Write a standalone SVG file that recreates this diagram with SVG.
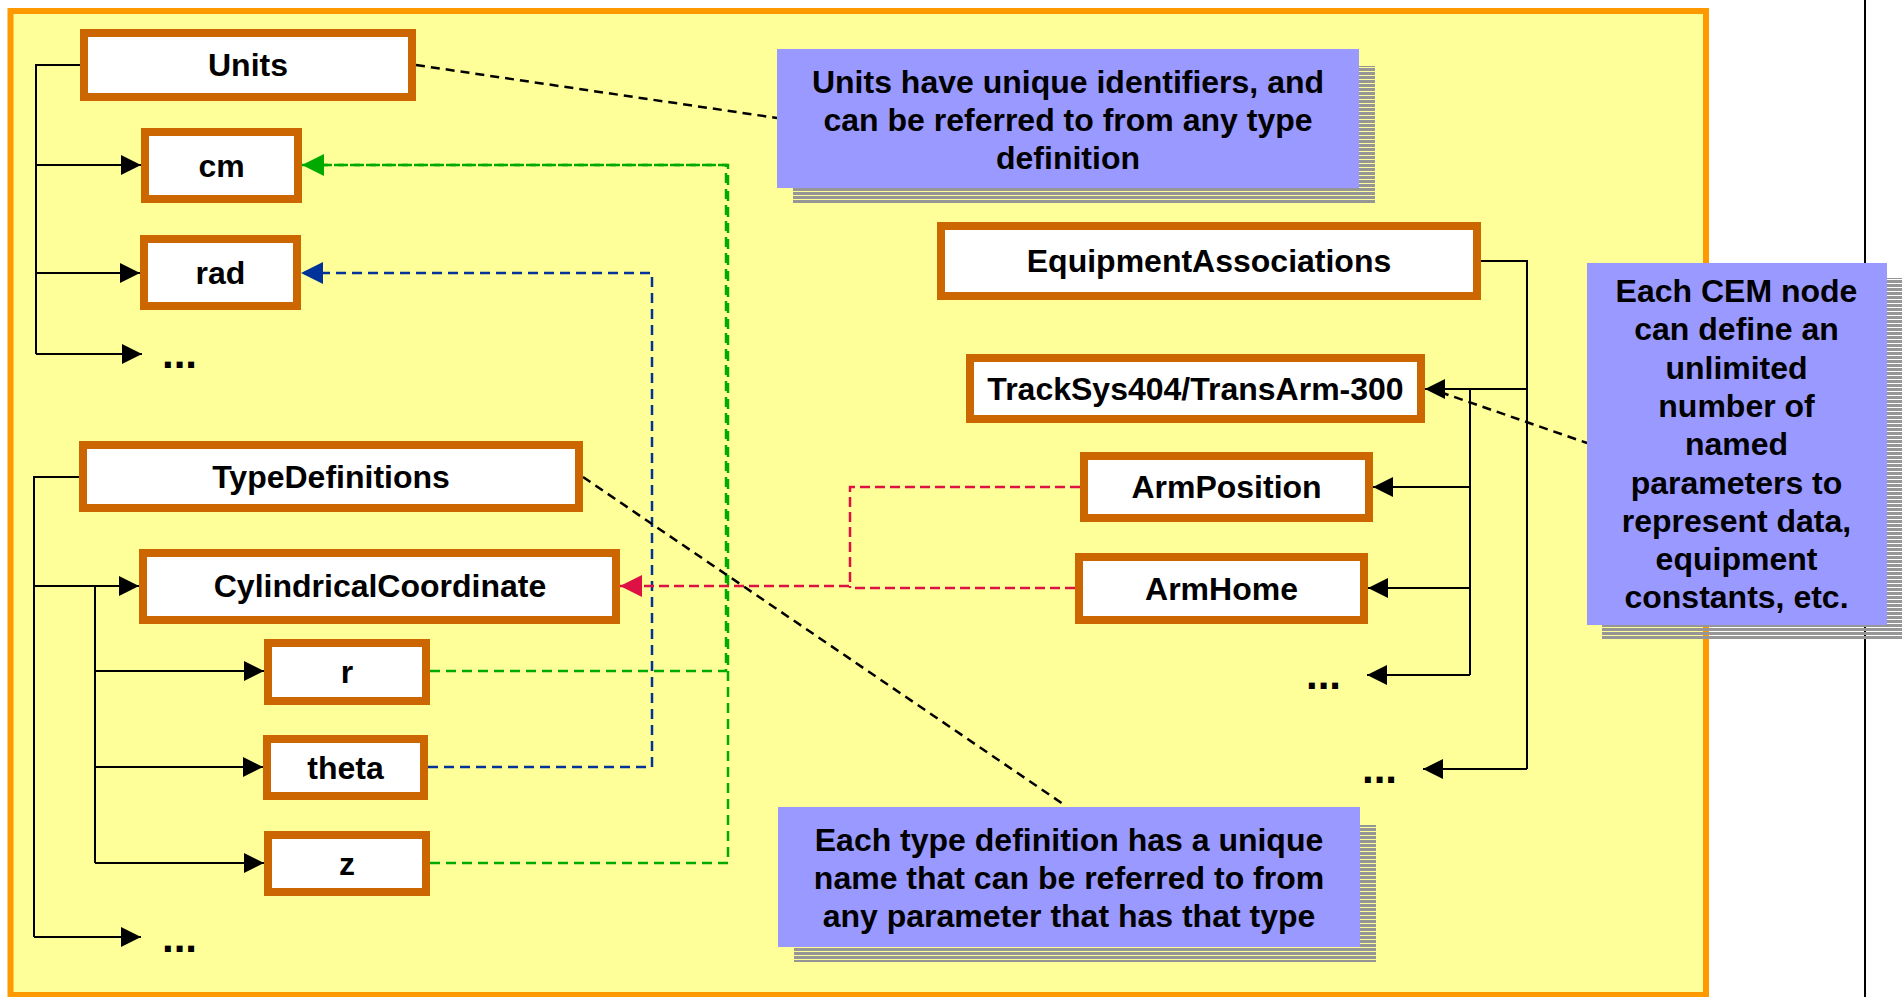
<svg xmlns="http://www.w3.org/2000/svg" width="1902" height="997" viewBox="0 0 1902 997">
  <style>
    .node rect { fill: #FFFFFF; stroke: #CC6600; stroke-width: 8; }
    .lbl { font-family: "Liberation Sans", Arial, sans-serif; font-weight: bold; font-size: 32px; fill: #000000; text-anchor: middle; }
    .dots { font-family: "Liberation Sans", Arial, sans-serif; font-weight: bold; font-size: 42px; fill: #000000; }
    .note rect.body { fill: #9999FF; }
    .note rect.shadow { fill: url(#stripes); }
    .tree { fill: none; stroke: #000000; stroke-width: 2; }
    .tree-arrow { fill: none; stroke: #000000; stroke-width: 2; marker-end: url(#arrowBlack); }
    .callout { fill: none; stroke: #000000; stroke-width: 2.5; stroke-dasharray: 9 6; }
    .ref-green { fill: none; stroke: #00AA00; stroke-width: 2.5; stroke-dasharray: 10 6; }
    .ref-blue { fill: none; stroke: #003399; stroke-width: 2.5; stroke-dasharray: 10 6; }
    .ref-red { fill: none; stroke: #DD1144; stroke-width: 2.5; stroke-dasharray: 10 5; }
  </style>
  <defs>
    <pattern id="stripes" width="8" height="4" patternUnits="userSpaceOnUse">
      <rect x="0" y="0" width="8" height="3" fill="#969696"/>
    </pattern>
    <marker id="arrowBlack" viewBox="0 0 20 20" refX="20" refY="10" markerWidth="20" markerHeight="20" markerUnits="userSpaceOnUse" orient="auto">
      <path d="M0,0 L20,10 L0,20 z" fill="#000000"/>
    </marker>
    <marker id="arrowGreen" viewBox="0 0 22 22" refX="22" refY="11" markerWidth="22" markerHeight="22" markerUnits="userSpaceOnUse" orient="auto">
      <path d="M0,0 L22,11 L0,22 z" fill="#00AA00"/>
    </marker>
    <marker id="arrowBlue" viewBox="0 0 22 22" refX="22" refY="11" markerWidth="22" markerHeight="22" markerUnits="userSpaceOnUse" orient="auto">
      <path d="M0,0 L22,11 L0,22 z" fill="#003399"/>
    </marker>
    <marker id="arrowRed" viewBox="0 0 22 22" refX="22" refY="11" markerWidth="22" markerHeight="22" markerUnits="userSpaceOnUse" orient="auto">
      <path d="M0,0 L22,11 L0,22 z" fill="#DD1144"/>
    </marker>
  </defs>

  <!-- page -->
  <rect x="0" y="0" width="1902" height="997" fill="#FFFFFF"/>
  <line x1="1865" y1="0" x2="1865" y2="997" stroke="#000000" stroke-width="2"/>
  <!-- yellow panel -->
  <rect x="10.5" y="11" width="1695.5" height="984" fill="#FFFF99" stroke="#FF9900" stroke-width="6"/>

  <!-- connectors -->
  <g id="connectors">
    <!-- Units tree -->
    <path class="tree" d="M80 65 H36 V354"/>
    <path class="tree-arrow" d="M36 165 H141"/>
    <path class="tree-arrow" d="M36 273 H140"/>
    <path class="tree-arrow" d="M36 354 H142"/>
    <!-- TypeDefinitions tree -->
    <path class="tree" d="M79 477 H34 V937"/>
    <path class="tree-arrow" d="M34 586 H139"/>
    <path class="tree-arrow" d="M34 937 H141"/>
    <path class="tree" d="M95 586 V863"/>
    <path class="tree-arrow" d="M95 671 H264"/>
    <path class="tree-arrow" d="M95 767 H263"/>
    <path class="tree-arrow" d="M95 863 H264"/>
    <!-- EquipmentAssociations tree -->
    <path class="tree" d="M1481 261 H1527 V769"/>
    <path class="tree-arrow" d="M1527 769 H1423"/>
    <path class="tree-arrow" d="M1527 389 H1425"/>
    <path class="tree" d="M1470 389 V675"/>
    <path class="tree-arrow" d="M1470 675 H1367"/>
    <path class="tree-arrow" d="M1470 487 H1373"/>
    <path class="tree-arrow" d="M1470 588 H1368"/>

    <!-- unit references -->
    <path class="ref-green" d="M430 863 H728 V165 H306"/>
    <path class="ref-green" d="M430 671 H726 V165 H302" marker-end="url(#arrowGreen)"/>
    <path class="ref-blue" d="M428 767 H652 V273 H301" marker-end="url(#arrowBlue)"/>
    <!-- type references -->
    <path class="ref-red" d="M1075 588 H850 V586"/>
    <path class="ref-red" d="M1080 487 H850 V586 H620" marker-end="url(#arrowRed)"/>

    <!-- callout leaders -->
    <path class="callout" d="M416 65 L777 118"/>
    <path class="callout" d="M583 477 L1066 806"/>
    <path class="callout" d="M1440 392 L1587 443"/>
  </g>

  <!-- unit nodes -->
  <g id="node-units" class="node">
    <rect x="84" y="33" width="328" height="64"/>
    <text class="lbl" x="248" y="76">Units</text>
  </g>
  <g id="node-cm" class="node">
    <rect x="145" y="132" width="153" height="67"/>
    <text class="lbl" x="221.5" y="177">cm</text>
  </g>
  <g id="node-rad" class="node">
    <rect x="144" y="239" width="153" height="67"/>
    <text class="lbl" x="220.5" y="284">rad</text>
  </g>
  <text id="units-more" class="dots" x="162" y="368">...</text>

  <!-- type nodes -->
  <g id="node-typedefs" class="node">
    <rect x="83" y="445" width="496" height="63"/>
    <text class="lbl" x="331" y="488">TypeDefinitions</text>
  </g>
  <g id="node-cylindrical" class="node">
    <rect x="143" y="553" width="473" height="67"/>
    <text class="lbl" x="380" y="597">CylindricalCoordinate</text>
  </g>
  <g id="node-r" class="node">
    <rect x="268" y="643" width="158" height="58"/>
    <text class="lbl" x="347" y="683">r</text>
  </g>
  <g id="node-theta" class="node">
    <rect x="267" y="739" width="157" height="57"/>
    <text class="lbl" x="345.5" y="779">theta</text>
  </g>
  <g id="node-z" class="node">
    <rect x="268" y="835" width="158" height="57"/>
    <text class="lbl" x="347" y="875">z</text>
  </g>
  <text id="types-more" class="dots" x="162" y="952">...</text>

  <!-- equipment nodes -->
  <g id="node-equipment" class="node">
    <rect x="941" y="226" width="536" height="70"/>
    <text class="lbl" x="1209" y="272">EquipmentAssociations</text>
  </g>
  <g id="node-tracksys" class="node">
    <rect x="970" y="358" width="451" height="61"/>
    <text class="lbl" x="1195.5" y="400">TrackSys404/TransArm-300</text>
  </g>
  <g id="node-armposition" class="node">
    <rect x="1084" y="456" width="285" height="62"/>
    <text class="lbl" x="1226.5" y="498">ArmPosition</text>
  </g>
  <g id="node-armhome" class="node">
    <rect x="1079" y="557" width="285" height="63"/>
    <text class="lbl" x="1221.5" y="600">ArmHome</text>
  </g>
  <text id="params-more" class="dots" x="1306" y="689">...</text>
  <text id="equipment-more" class="dots" x="1362" y="783">...</text>

  <!-- notes -->
  <g id="note-units" class="note">
    <rect class="shadow" x="793" y="66" width="582" height="137"/>
    <rect class="body" x="777" y="49" width="582" height="139"/>
    <text class="lbl" x="1068" y="93">Units have unique identifiers, and</text>
    <text class="lbl" x="1068" y="131">can be referred to from any type</text>
    <text class="lbl" x="1068" y="169">definition</text>
  </g>
  <g id="note-types" class="note">
    <rect class="shadow" x="794" y="825" width="582" height="137"/>
    <rect class="body" x="778" y="807" width="582" height="140"/>
    <text class="lbl" x="1069" y="851">Each type definition has a unique</text>
    <text class="lbl" x="1069" y="889">name that can be referred to from</text>
    <text class="lbl" x="1069" y="927">any parameter that has that type</text>
  </g>
  <g id="note-cem" class="note">
    <rect class="shadow" x="1602" y="278" width="310" height="362"/>
    <rect class="body" x="1587" y="263" width="300" height="362"/>
    <text class="lbl" x="1736.5" y="302">Each CEM node</text>
    <text class="lbl" x="1736.5" y="340">can define an</text>
    <text class="lbl" x="1736.5" y="379">unlimited</text>
    <text class="lbl" x="1736.5" y="417">number of</text>
    <text class="lbl" x="1736.5" y="455">named</text>
    <text class="lbl" x="1736.5" y="494">parameters to</text>
    <text class="lbl" x="1736.5" y="532">represent data,</text>
    <text class="lbl" x="1736.5" y="570">equipment</text>
    <text class="lbl" x="1736.5" y="608">constants, etc.</text>
  </g>
</svg>
